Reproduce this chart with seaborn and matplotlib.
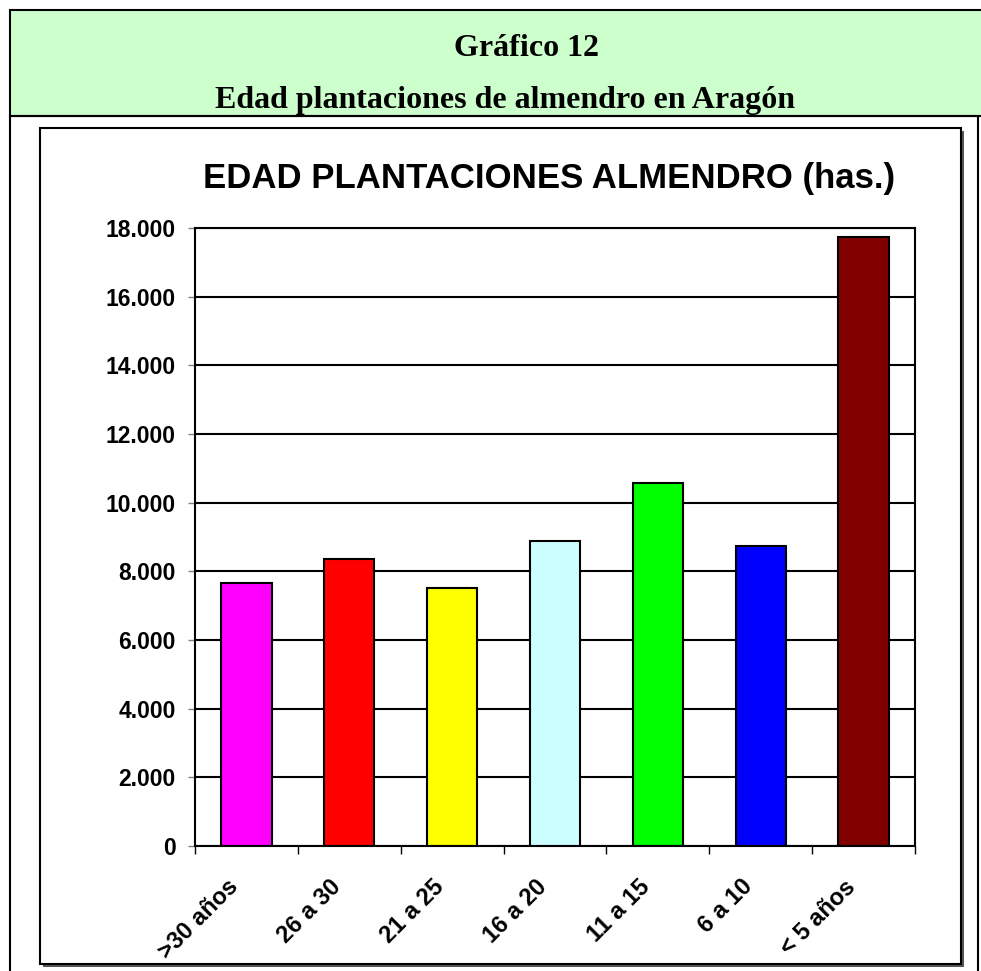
import matplotlib
matplotlib.use("Agg")
import matplotlib.pyplot as plt
import matplotlib.ticker as mticker
from matplotlib.patches import Rectangle
from matplotlib.transforms import ScaledTranslation
import pandas as pd
import seaborn as sns

categorias = [">30 años", "26 a 30", "21 a 25", "16 a 20", "11 a 15", "6 a 10", "< 5 años"]
hectareas = [7670, 8360, 7520, 8870, 10560, 8730, 17750]
colores = ["#FF00FF", "#FF0000", "#FFFF00", "#CCFFFF", "#00FF00", "#0000FF", "#800000"]
y_ticks = [0, 2000, 4000, 6000, 8000, 10000, 12000, 14000, 16000, 18000]

sns.set_theme(style="white")
plt.rcParams['font.family'] = ['Liberation Sans', 'DejaVu Sans']
plt.rcParams['text.color'] = 'black'
plt.rcParams['xtick.color'] = 'black'
plt.rcParams['ytick.color'] = 'black'

W, H = 981, 971
fig = plt.figure(figsize=(W / 100, H / 100), dpi=100)


def caja(x0, y0, x1, y1, **kw):
    # rectangulo en pixeles (origen arriba-izquierda)
    r = Rectangle((x0 / W, 1 - y1 / H), (x1 - x0) / W, (y1 - y0) / H,
                  transform=fig.transFigure, **kw)
    fig.patches.append(r)
    return r


# cabecera verde y marcos
caja(10, 10, 995, 116, facecolor="#CCFFCC", edgecolor="black", lw=1.5, zorder=-3)
caja(10, 116, 978, 1000, fill=False, edgecolor="black", lw=1.5, zorder=-3)
caja(43, 131, 964, 967, facecolor="#555555", edgecolor="none", zorder=-2)
caja(40, 128, 961, 964, facecolor="white", edgecolor="black", lw=1.5, zorder=-1)

fig.text(526 / W, 1 - 56 / H, "Gráfico 12", ha="center", va="baseline",
         fontsize=23, fontweight="bold", family="Liberation Serif")
fig.text(505 / W, 1 - 108 / H, "Edad plantaciones de almendro en Aragón", ha="center",
         va="baseline", fontsize=23, fontweight="bold", family="Liberation Serif")
fig.text(549 / W, 1 - 188 / H, "EDAD PLANTACIONES ALMENDRO (has.)", ha="center",
         va="baseline", fontsize=25, fontweight="bold")

ax = fig.add_axes([195 / W, 1 - 846 / H, 720 / W, 618 / H])
df = pd.DataFrame({"edad": categorias, "has": hectareas})
sns.barplot(data=df, x="edad", y="has", hue="edad", palette=colores, legend=False,
            width=0.49, edgecolor="black", linewidth=1.5, saturation=1, ax=ax)

ax.set_ylim(0, 18000)
ax.set_xlim(-0.5, 6.5)
ax.set_yticks(y_ticks)
ax.yaxis.set_major_formatter(mticker.FuncFormatter(lambda v, p: f"{int(v):,}".replace(",", ".")))
ax.grid(axis="y", color="black", lw=1.5)
ax.set_axisbelow(True)
ax.set_xlabel("")
ax.set_ylabel("")
for s in ax.spines.values():
    s.set_color("black")
    s.set_linewidth(1.5)

ax.set_xticks(range(len(categorias)))
ax.set_xticklabels(categorias, rotation=45, ha="right", va="top", rotation_mode="anchor",
                   fontsize=17, fontweight="bold")
ax.set_xticks([i - 0.5 for i in range(len(categorias) + 1)], minor=True)
ax.tick_params(axis="x", which="major", length=0, pad=21)
ax.tick_params(axis="x", which="minor", length=6, width=1, color="black", direction="out", bottom=True)
ax.tick_params(axis="y", length=5, width=1, color="gray", labelsize=16.5, pad=9, left=True)
for lbl in ax.get_yticklabels():
    lbl.set_fontweight("bold")
for lbl in ax.get_xticklabels():
    lbl.set_transform(lbl.get_transform() + ScaledTranslation(-0.2, 0, fig.dpi_scale_trans))

fig.savefig("out.png", dpi=100, facecolor="white")
